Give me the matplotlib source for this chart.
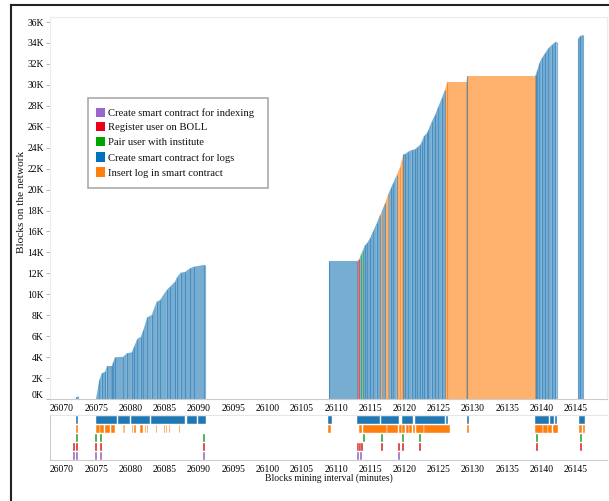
import numpy as np
import matplotlib
matplotlib.use("Agg")
import matplotlib.pyplot as plt
from matplotlib.patches import Polygon, Rectangle
from matplotlib.lines import Line2D
from matplotlib.transforms import ScaledTranslation

plt.rcParams['font.family'] = ['Liberation Serif', 'DejaVu Serif']

nan = np.nan
# ---------------- data ----------------
categories = ["Create smart contract for indexing", "Register user on BOLL",
              "Pair user with institute", "Create smart contract for logs",
              "Insert log in smart contract"]
kinds = ["index", "register", "pair", "logs", "insert"]

# main chart: block count at time points (NaN breaks a run), kind of the span ending at each point
main_x = [26072.05, 26072.35, nan,
          26074.96, 26075.45, 26075.80, 26076.28, 26076.53, 26077.26, 26077.49, 26077.74,
          26078.95, 26079.45, 26080.18, 26080.51, 26081.00, 26081.49, 26081.87, 26082.45,
          26083.09, 26083.82, 26084.31, 26085.28, 26085.77, 26086.50, 26086.74, 26087.33,
          26087.96, 26088.69, 26089.27, 26090.73, 26090.85, nan,
          26109.03, 26113.11, 26113.41, 26113.60, 26113.89, 26114.23, 26114.57, 26114.96,
          26115.45, 26115.94, 26116.42, 26116.67, 26117.15, 26117.64, 26117.98, 26118.37,
          26118.86, 26119.34, 26119.59, 26119.73, nan,
          26119.83, 26120.07, 26120.56, 26121.05, 26121.53, 26121.87, 26122.26, 26122.51,
          26122.85, 26123.24, 26123.48, 26123.97, 26124.45, 26124.94, 26125.43, 26125.91,
          26126.16, 26126.20, 26129.07, 26129.17, 26139.05, 26139.15, 26139.39, 26139.68,
          26140.02, 26140.51, 26141.00, 26141.48, 26141.97, 26142.21, nan,
          26145.38, 26145.62, 26146.10]
main_y = [150, 250, nan,
          0, 1815, 2450, 2610, 3150, 3150, 3560, 3980,
          4040, 4360, 4460, 4990, 5730, 5950, 6590, 7800,
          8020, 9290, 9450, 10410, 10730, 11200, 11590, 12070,
          12130, 12480, 12640, 12800, 12820, nan,
          13180, 13180, 13340, 13753, 14167, 14677, 14931, 15345,
          16077, 16777, 17573, 17891, 18687, 19578, 20119, 20661,
          21393, 22125, 22825, 23302, nan,
          23366, 23398, 23621, 23780, 23844, 24035, 24257, 24576,
          25117, 25371, 25690, 26485, 27122, 27918, 28714, 29509,
          30082, 30305, 30305, 30878, 30878, 30943, 31421, 32057,
          32535, 33012, 33490, 33808, 34063, 34126, nan,
          34445, 34667, 34763]
main_kind = ["logs", "logs", None,
             "logs", "logs", "logs", "logs", "logs", "logs", "logs", "logs",
             "logs", "logs", "logs", "logs", "logs", "logs", "logs", "logs",
             "logs", "logs", "logs", "logs", "logs", "logs", "logs", "logs",
             "logs", "logs", "logs", "logs", "logs", None,
             "logs", "logs", "register", "logs", "pair", "logs", "logs", "logs",
             "logs", "logs", "logs", "insert", "logs", "insert", "logs", "logs",
             "logs", "insert", "insert", "insert", None,
             "logs", "logs", "logs", "logs", "logs", "logs", "logs", "logs",
             "logs", "logs", "logs", "logs", "logs", "logs", "logs", "logs",
             "insert", "insert", "insert", "logs", "insert", "logs", "logs", "logs",
             "logs", "logs", "logs", "logs", "logs", "logs", None,
             "logs", "logs", "logs"]

# timeline strip: intervals (start, end) per kind
logs_start = [26072.04, 26074.92, 26078.23, 26080.07, 26083.00, 26088.30, 26089.90,
              26108.88, 26113.01, 26116.61, 26119.58, 26121.58, 26126.05, 26129.07,
              26139.10, 26141.25, 26141.95, 26145.52]
logs_end = [26072.39, 26078.08, 26079.93, 26082.85, 26087.96, 26089.66, 26091.00,
            26109.36, 26116.42, 26119.24, 26121.29, 26125.91, 26126.39, 26129.36,
            26141.15, 26141.85, 26142.31, 26146.35]
insert_start = [26072.04, 26074.92, 26075.60, 26076.30, 26077.10, 26078.86, 26079.10,
                26080.17, 26080.50, 26081.39, 26082.12, 26082.46, 26083.09, 26083.72,
                26084.89, 26085.18, 26085.67, 26085.86, 26087.13,
                26108.88, 26113.40, 26113.95, 26117.50, 26119.20, 26119.70, 26120.20,
                26120.70, 26121.20, 26121.70, 26122.90, 26129.07, 26139.10, 26140.25,
                26141.00, 26141.70, 26145.52, 26146.00]
insert_end = [26072.39, 26075.50, 26076.20, 26077.00, 26077.74, 26079.00, 26079.20,
              26080.40, 26080.80, 26081.87, 26082.22, 26082.56, 26083.19, 26083.82,
              26084.99, 26085.28, 26085.77, 26085.96, 26087.23,
              26109.22, 26113.85, 26117.40, 26119.10, 26119.60, 26120.10, 26120.60,
              26121.10, 26121.60, 26122.80, 26126.64, 26129.46, 26140.15, 26140.90,
              26141.60, 26142.45, 26145.95, 26146.35]
pair_time = [26072.14, 26074.96, 26075.65, 26090.73, 26114.08, 26116.76, 26119.73,
             26122.26, 26139.29, 26145.71]
register_time = [26071.80, 26072.14, 26074.96, 26075.65, 26090.73, 26113.16, 26113.50,
                 26113.74, 26116.76, 26119.19, 26119.73, 26122.26, 26139.29, 26145.71]
index_time = [26071.80, 26072.14, 26074.96, 26075.65, 26090.73, 26113.16, 26113.60,
              26119.19]

y_ticks = list(range(0, 36001, 2000))
x_ticks = list(range(26070, 26146, 5))

# ---------------- style ----------------
W, H = 609, 501
fig = plt.figure(figsize=(W / 100, H / 100), dpi=100)
fig.patch.set_facecolor('white')

col = {"logs": "#1f77b4", "insert": "#ff7f0e", "pair": "#2ca02c",
       "register": "#d62728", "index": "#9467bd"}
legend_col = {"index": "#9966cc", "register": "#e8001c", "pair": "#00a400",
              "logs": "#0072bc", "insert": "#ff7f0e"}

XMIN, XMAX = 26068.25, 26149.56
TICK_FS = 6.9

def fx(px):
    return px / W

def fy(py):
    return 1 - py / H

ax = fig.add_axes([fx(50), fy(399), (607 - 50) / W, (399 - 17) / H])
ax.set_xlim(XMIN, XMAX)
ax.set_ylim(0, 36480)

for i in range(len(main_x) - 1):
    x0, x1 = main_x[i], main_x[i + 1]
    y0, y1 = main_y[i], main_y[i + 1]
    if np.isnan(x0) or np.isnan(x1):
        continue
    c = col[main_kind[i + 1]]
    poly = Polygon([(x0, 0), (x0, y0), (x1, y1), (x1, 0)], closed=True,
                   facecolor=matplotlib.colors.to_rgba(c, 0.6), edgecolor='none')
    ax.add_patch(poly)
for i in range(len(main_x)):
    if np.isnan(main_x[i]):
        continue
    ax.vlines(main_x[i], 0, main_y[i], color=col[main_kind[i]], alpha=0.55, lw=0.8)

ax.set_yticks(y_ticks)
ax.set_yticklabels([f"{v // 1000}K" for v in y_ticks])
ax.set_xticks(x_ticks)
ax.set_xticklabels([str(v) for v in x_ticks])
ax.tick_params(axis='y', length=3, width=0.6, color='#aaaaaa', pad=1.5, labelsize=TICK_FS)
ax.tick_params(axis='x', length=0, pad=3.5, labelsize=TICK_FS)
# shift the "0K" label up like the reference
lab0 = ax.get_yticklabels()[0]
lab0.set_transform(lab0.get_transform() + ScaledTranslation(0, 5 / 100, fig.dpi_scale_trans))
for s in ['top', 'right', 'left']:
    ax.spines[s].set_color('#ececec')
    ax.spines[s].set_linewidth(0.8)
ax.spines['bottom'].set_color('#cccccc')
ax.spines['bottom'].set_linewidth(0.8)

fig.text(fx(22), fy(202), "Blocks on the network", rotation=90, fontsize=8.2,
         ha='center', va='center', color='#111111')

# ---------------- strip ----------------
ax2 = fig.add_axes([fx(50), fy(460), (607 - 50) / W, (460 - 415) / H])
ax2.set_xlim(XMIN, XMAX)
ax2.set_ylim(4.444, -0.556)
bh = 0.78
for s, e in zip(logs_start, logs_end):
    ax2.barh(0, e - s, left=s, height=bh, color=col["logs"], edgecolor='white', linewidth=0.3)
for s, e in zip(insert_start, insert_end):
    ax2.barh(1, e - s, left=s, height=bh, color=col["insert"], edgecolor='white', linewidth=0.3)
tw = 0.28
for row, times, k in [(2, pair_time, "pair"), (3, register_time, "register"), (4, index_time, "index")]:
    for t in times:
        ax2.barh(row, tw, left=t - tw / 2, height=bh, color=col[k], edgecolor='white', linewidth=0.3)
ax2.set_yticks([])
ax2.set_xticks(x_ticks)
ax2.set_xticklabels([str(v) for v in x_ticks])
ax2.tick_params(axis='x', length=0, pad=3.5, labelsize=TICK_FS)
ax2.spines['top'].set_color('#e6e6e6')
ax2.spines['right'].set_visible(False)
ax2.spines['left'].set_color('#cccccc')
ax2.spines['bottom'].set_color('#cccccc')
for s in ['top', 'left', 'bottom']:
    ax2.spines[s].set_linewidth(0.8)
fig.text(fx(328.5), fy(478), "Blocks mining interval (minutes)", fontsize=6.9,
         ha='center', va='center', color='#111111')

# ---------------- legend ----------------
fig.add_artist(Rectangle((fx(88), fy(188)), 180 / W, 90 / H, transform=fig.transFigure,
                         facecolor='white', edgecolor='#aaaaaa', linewidth=1.2))
leg_y = [112.2, 126.7, 141.7, 157.0, 172.0]
for k, lab, yy in zip(kinds, categories, leg_y):
    fig.add_artist(Rectangle((fx(95.5), fy(yy + 4.7)), 9.4 / W, 9.4 / H, transform=fig.transFigure,
                             facecolor=legend_col[k], edgecolor='none'))
    fig.text(fx(107.7), fy(yy), lab, fontsize=7.7, va='center_baseline', ha='left', color='#111111')

# ---------------- outer frame ----------------
fig.add_artist(Line2D([fx(11), fx(11)], [0, fy(5)], transform=fig.transFigure, color='#222222', lw=1.5))
fig.add_artist(Line2D([fx(11), 1], [fy(5), fy(5)], transform=fig.transFigure, color='#222222', lw=1.5))

fig.savefig("out.png", dpi=100)
